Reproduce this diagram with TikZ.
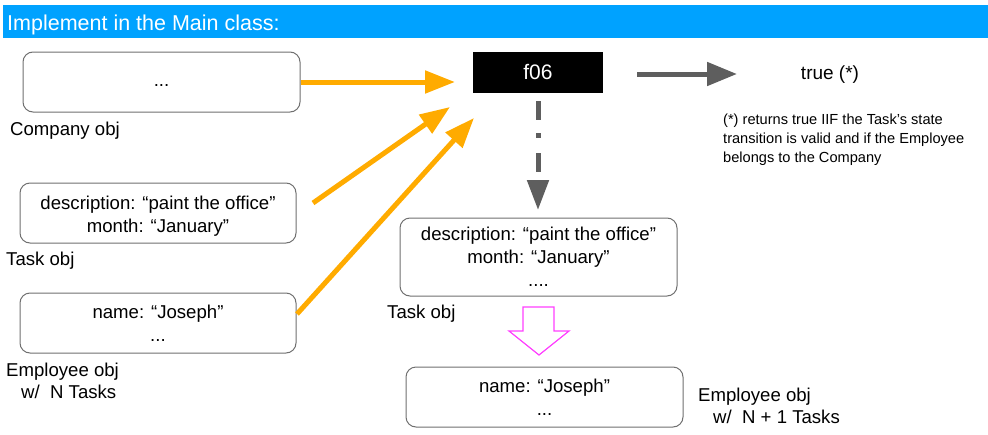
\documentclass[tikz,border=0pt]{standalone}
\usepackage{fontspec}
\setmainfont{Liberation Sans}
\usetikzlibrary{arrows.meta}
\definecolor{hdrblue}{HTML}{00A2FF}
\definecolor{orng}{HTML}{FFAB00}
\definecolor{darkgr}{HTML}{5E5E5E}
\definecolor{boxgr}{HTML}{707070}
\definecolor{mgnt}{HTML}{FF3FFF}
\tikzset{
  objbox/.style={draw=boxgr, line width=1pt, rounded corners=10pt, fill=white,
    align=center, inner sep=0pt, font=\fontsize{18.6}{23}\selectfont},
  lbl/.style={anchor=base west, inner sep=0pt, align=left, font=\fontsize{18.6}{22}\selectfont},
  orarrow/.style={draw=orng, line width=5pt, -{Triangle[length=30pt,width=22pt]}},
  grarrow/.style={draw=darkgr, line width=5pt, -{Triangle[length=30pt,width=23pt]}},
}
\begin{document}
\begin{tikzpicture}[x=1pt,y=-1pt]
\useasboundingbox (0,0) rectangle (988,434);
% header
\fill[hdrblue] (3,5) rectangle (988,38);
\node[anchor=base west, inner sep=0pt, text=white, font=\fontsize{21.5}{24}\selectfont] (hdr) at (7,30) {Implement in the Main class:};
% left objects
\node[objbox, minimum width=277pt, minimum height=60pt] (comp) at (161.5,82) {\vphantom{Ay}...};
\node[lbl] (compl) at (10,135.5) {Company obj};
\node[objbox, minimum width=276pt, minimum height=60pt] (taskL) at (158,213) {\rule{0pt}{20pt}description: “paint the office”\\month: “January”};
\node[lbl] (taskLl) at (6,265.5) {Task obj};
\node[objbox, minimum width=276pt, minimum height=60pt] (empL) at (158,323) {name: “Joseph”\\...};
\node[lbl] (empLl) at (6,398.5) {Employee obj\\\hspace*{15pt}w/ \ N Tasks};
% f06
\node[fill=black, minimum width=130pt, minimum height=41pt, inner sep=0pt, text=white, font=\fontsize{21}{24}\selectfont] (f06) at (538,72.5) {f06};
% result
\node[inner sep=0pt, font=\fontsize{19}{22}\selectfont] (true) at (830,75) {true (*)};
\node[anchor=base west, inner sep=0pt, align=left, font=\fontsize{14.6}{18.7}\selectfont] (note) at (723,162) {(*) returns true IIF the Task’s state\\transition is valid and if the Employee\\belongs to the Company};
% right objects
\node[objbox, minimum width=277pt, minimum height=78pt] (taskR) at (538.5,257) {description: “paint the office”\\month: “January”\\....};
\node[lbl] (taskRl) at (387,318.5) {Task obj};
\node[objbox, minimum width=277pt, minimum height=60pt] (empR) at (544.5,397) {name: “Joseph”\\...};
\node[lbl] (empRl) at (698,423.5) {Employee obj\\\hspace*{15pt}w/ \ N + 1 Tasks};
% coordinates
\coordinate (o1e) at (455,82);
\coordinate (o2s) at (313,203);
\coordinate (o2e) at (450,107);
\coordinate (o3s) at (297,314);
\coordinate (o3e) at (474,118);
\coordinate (g1s) at (637,74);
\coordinate (g1e) at (737,74);
\coordinate (d1s) at (538,101);
\coordinate (d1e) at (538,210);
% arrows
\draw[orarrow] (comp.east) -- (o1e);
\draw[orarrow] (o2s) -- (o2e);
\draw[orarrow] (o3s) -- (o3e);
\draw[grarrow] (g1s) -- (g1e);
\draw[draw=darkgr, line width=5pt, dash pattern=on 19pt off 13pt on 5pt off 15pt, -{Triangle[length=30pt,width=21pt]}] (d1s) -- (d1e);
% hollow magenta arrow
\draw[mgnt, line width=1.2pt, line join=miter] (523,307) -- (554,307) -- (554,331) -- (569,331) -- (539,355) -- (509,331) -- (523,331) -- cycle;
\end{tikzpicture}
\end{document}
